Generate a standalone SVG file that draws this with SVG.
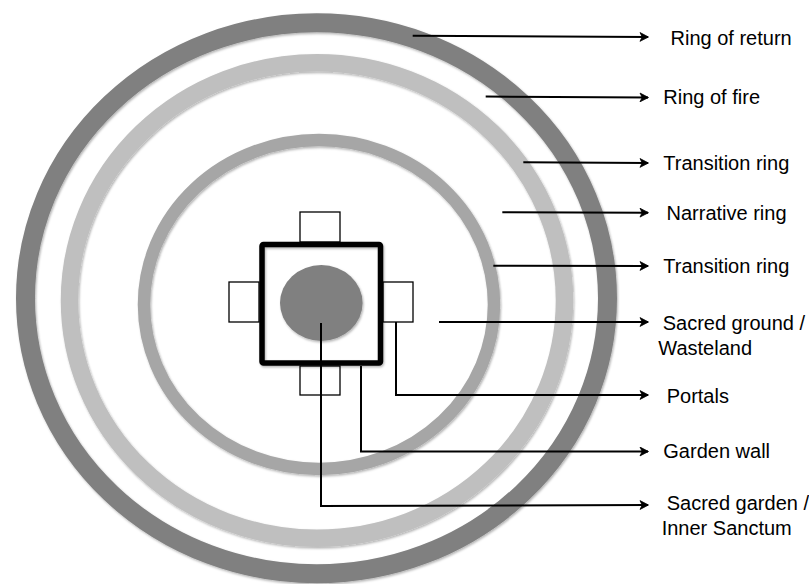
<svg xmlns="http://www.w3.org/2000/svg" width="809" height="584" viewBox="0 0 809 584">
  <style>
    .ring { fill: none; filter: url(#shadow); }
    .portal { fill: #ffffff; stroke: #000000; stroke-width: 1.3; }
    .conn { fill: none; stroke: #000000; stroke-width: 2; marker-end: url(#arrow); }
    .lead { fill: none; stroke: #000000; stroke-width: 2; }
    .label { font-family: "Liberation Sans", Arial, sans-serif; font-size: 20px; fill: #000000; }
  </style>
  <defs>
    <filter id="shadow" x="-10%" y="-10%" width="120%" height="120%">
      <feDropShadow dx="1" dy="1.5" stdDeviation="1.2" flood-color="#000000" flood-opacity="0.3"/>
    </filter>
    <marker id="arrow" viewBox="0 0 10 10" refX="9" refY="5" markerWidth="5" markerHeight="5" orient="auto" markerUnits="strokeWidth">
      <path d="M1,0.6 L9.5,5 L1,9.4 L3.2,5 Z" fill="#000000" stroke="#000000" stroke-width="0.8" stroke-linejoin="miter"/>
    </marker>
  </defs>

  <rect width="809" height="584" fill="#ffffff"/>

  <g id="ring-of-return">
    <ellipse class="ring" cx="316.5" cy="298.3" rx="291" ry="275.5" stroke="#808080" stroke-width="19"/>
  </g>
  <g id="ring-of-fire">
    <ellipse class="ring" cx="317" cy="300.5" rx="247.5" ry="237.8" stroke="#bfbfbf" stroke-width="17.5"/>
  </g>
  <g id="transition-ring-inner">
    <ellipse class="ring" cx="319" cy="304.5" rx="175" ry="164.5" stroke="#a6a6a6" stroke-width="12.5"/>
  </g>

  <g id="portals">
    <rect class="portal" x="300" y="212" width="40" height="30"/>
    <rect class="portal" x="229" y="282" width="30" height="40"/>
    <rect class="portal" x="383" y="282" width="30" height="40"/>
    <rect class="portal" x="300" y="366" width="40" height="29"/>
  </g>

  <g id="garden-wall">
    <rect x="262" y="244.5" width="118.5" height="118.5" rx="1.5" fill="none" stroke="#000000" stroke-width="5.5" filter="url(#shadow)"/>
  </g>

  <g id="sacred-garden">
    <ellipse cx="321.3" cy="303" rx="41.3" ry="38" fill="#808080" filter="url(#shadow)"/>
  </g>

  <g id="connectors">
    <path class="conn" d="M412.7,35.7 L648,37"/>
    <path class="conn" d="M485.7,96.5 L648,97.5"/>
    <path class="conn" d="M523.3,162.3 L648,163"/>
    <path class="conn" d="M502.3,212.3 L648,212.7"/>
    <path class="conn" d="M493.3,265.7 L648,266"/>
    <path class="conn" d="M439,322 L648,322"/>
    <path class="conn" d="M396,322 L396,395 L648,395"/>
    <path class="conn" d="M361,366 L361,451.5 L648,451.5"/>
    <path class="conn" d="M321,323 L321,506 L648,505"/>
  </g>

  <g id="labels">
    <text class="label" x="670.5" y="45">Ring of return</text>
    <text class="label" x="663.3" y="103.5">Ring of fire</text>
    <text class="label" x="663.3" y="170">Transition ring</text>
    <text class="label" x="666.5" y="219.5">Narrative ring</text>
    <text class="label" x="663.3" y="273.3">Transition ring</text>
    <text class="label" x="662.7" y="330">Sacred ground /</text>
    <text class="label" x="658.3" y="355">Wasteland</text>
    <text class="label" x="666.7" y="402.7">Portals</text>
    <text class="label" x="663.3" y="458.3">Garden wall</text>
    <text class="label" x="666.7" y="510">Sacred garden /</text>
    <text class="label" x="661.7" y="535">Inner Sanctum</text>
  </g>
</svg>
